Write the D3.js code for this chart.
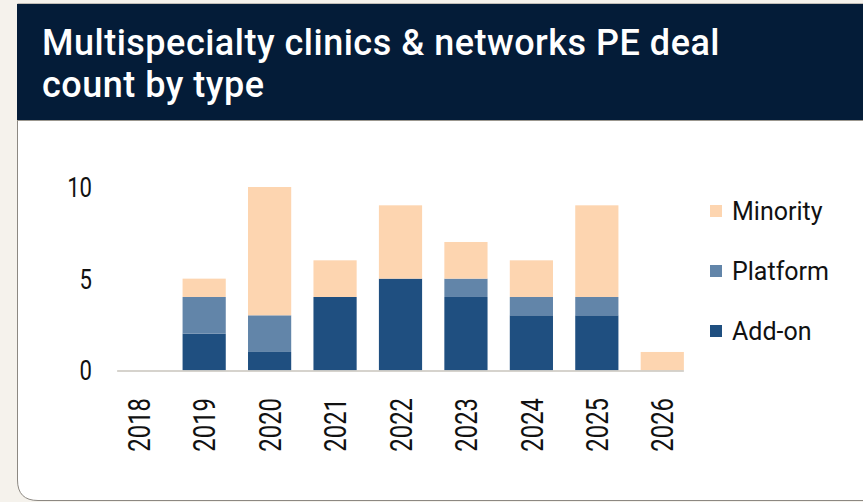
<!DOCTYPE html>
<html>
<head>
<meta charset="utf-8">
<script src="https://cdn.jsdelivr.net/npm/d3@7"></script>
<style>
  html, body { margin: 0; padding: 0; background: #f5f2ec; }
  svg { display: block; font-family: Roboto, "Noto Sans", sans-serif; }
</style>
</head>
<body>
<div id="viz"></div>
<script>
const years = ['2018','2019','2020','2021','2022','2023','2024','2025','2026']
const addOn    = [0, 2, 1, 4, 5, 4, 3, 3, 0]
const platform = [0, 2, 2, 0, 0, 1, 1, 1, 0]
const minority = [0, 1, 7, 2, 4, 2, 2, 5, 1]
const seriesNames = ['Add-on', 'Platform', 'Minority']
const seriesColors = ['#1f4f80', '#6285a9', '#fdd5b0']
const yTicks = [0, 5, 10]
const titleLines = ['Multispecialty clinics & networks PE deal', 'count by type']

const width = 863
const height = 502

const svg = d3.select('#viz')
  .append('svg')
  .attr('width', width)
  .attr('height', height)

// card + header
svg.append('path')
  .attr('d', `M17.5,4 V480 Q17.5,500.5 38,500.5 H${width + 10} V4 Z`)
  .attr('fill', '#ffffff')
  .attr('stroke', '#8c8882')
  .attr('stroke-width', 1)

svg.append('rect')
  .attr('x', 17)
  .attr('y', 4)
  .attr('width', width)
  .attr('height', 116)
  .attr('fill', '#041c38')

svg.append('line')
  .attr('x1', 17).attr('x2', width)
  .attr('y1', 120.5).attr('y2', 120.5)
  .attr('stroke', '#9b978f')
  .attr('stroke-width', 1)

svg.append('g')
  .selectAll('text')
  .data(titleLines)
  .join('text')
  .attr('x', 42)
  .attr('y', (d, i) => 55 + i * 42)
  .attr('fill', '#ffffff')
  .style('font-size', '36px')
  .style('font-weight', 500)
  .style('letter-spacing', '0.5px')
  .text(d => d)

// data table
const table = years.map((y, i) => ({
  year: y,
  'Add-on': addOn[i],
  'Platform': platform[i],
  'Minority': minority[i]
}))
const stacked = d3.stack().keys(seriesNames)(table)

// scales
const xScale = d3.scaleBand()
  .domain(years)
  .range([106, 695])
  .paddingInner(0.34)
  .paddingOuter(0.17)

const yScale = d3.scaleLinear()
  .domain([0, 10])
  .range([370.3, 187])

const color = d3.scaleOrdinal().domain(seriesNames).range(seriesColors)

const chart = svg.append('g')

chart.selectAll('g.series')
  .data(stacked)
  .join('g')
  .attr('class', 'series')
  .attr('fill', d => color(d.key))
  .selectAll('rect')
  .data(d => d)
  .join('rect')
  .attr('x', d => xScale(d.data.year))
  .attr('y', d => yScale(d[1]))
  .attr('width', xScale.bandwidth())
  .attr('height', d => yScale(d[0]) - yScale(d[1]))

// baseline
chart.append('line')
  .attr('x1', xScale(years[0]))
  .attr('x2', xScale(years[years.length - 1]) + xScale.bandwidth())
  .attr('y1', yScale(0) + 0.7)
  .attr('y2', yScale(0) + 0.7)
  .attr('stroke', '#c9c5bd')
  .attr('stroke-width', 1.5)

// y tick labels
chart.append('g')
  .selectAll('text')
  .data(yTicks)
  .join('text')
  .attr('transform', d => `translate(92,${yScale(d)}) scale(0.79,1)`)
  .attr('dy', '0.36em')
  .attr('text-anchor', 'end')
  .attr('fill', '#111')
  .style('font-size', '28px')
  .text(d => d)

// x labels
chart.append('g')
  .selectAll('text')
  .data(years)
  .join('text')
  .attr('transform', d => `translate(${xScale(d) + xScale.bandwidth() / 2},398) rotate(-90) scale(0.77,1)`)
  .attr('dy', '0.36em')
  .attr('text-anchor', 'end')
  .attr('fill', '#111')
  .style('font-size', '31px')
  .text(d => d)

// legend
const legendOrder = ['Minority', 'Platform', 'Add-on']
const legend = svg.append('g')
  .selectAll('g')
  .data(legendOrder)
  .join('g')
  .attr('transform', (d, i) => `translate(710,${211 + i * 60})`)

legend.append('rect')
  .attr('x', 0)
  .attr('y', -6)
  .attr('width', 12)
  .attr('height', 12)
  .attr('fill', d => color(d))

legend.append('text')
  .attr('x', 22)
  .attr('y', 9)
  .attr('fill', '#111')
  .style('font-size', '25px')
  .text(d => d)
</script>
</body>
</html>
